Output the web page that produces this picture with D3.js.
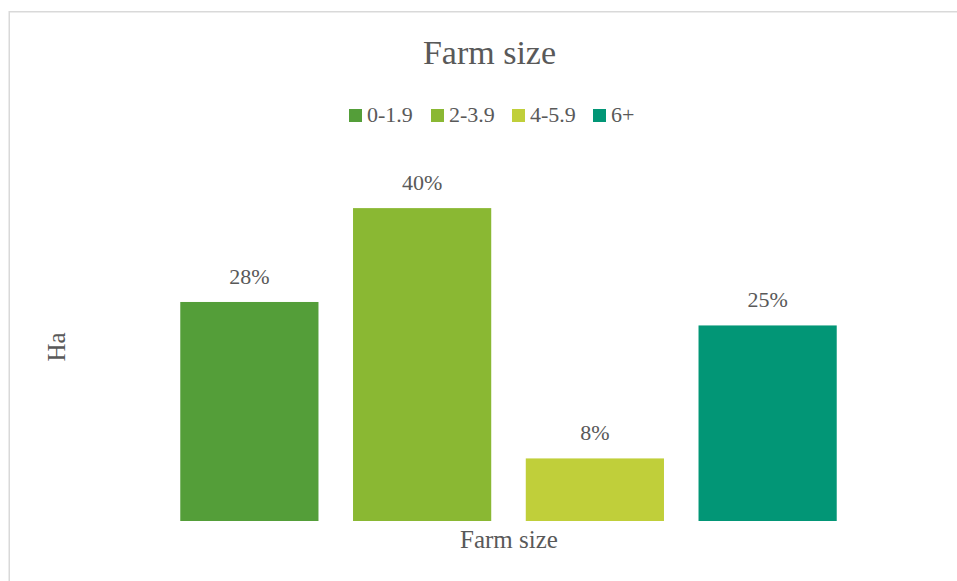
<!DOCTYPE html>
<html>
<head>
<meta charset="utf-8">
<script src="https://cdn.jsdelivr.net/npm/d3@7"></script>
<style>
  html, body { margin: 0; padding: 0; background: #ffffff; }
  svg { display: block; }
  text { font-family: "Liberation Serif", "DejaVu Serif", serif; fill: #595959; }
</style>
</head>
<body>
<svg id="chart" width="957" height="581"></svg>
<script>
// Farm size distribution (share of farms, %)
const categories = ["0-1.9", "2-3.9", "4-5.9", "6+"];
const shares = [28, 40, 8, 25];
const colors = ["#549E39", "#8AB833", "#C0CF3A", "#029676"];
const yMax = 45;

const svg = d3.select("#chart");

// chart frame
svg.append("rect")
  .attr("x", 9.25).attr("y", 11.75)
  .attr("width", 980).attr("height", 620)
  .attr("fill", "none")
  .attr("stroke", "#d9d9d9")
  .attr("stroke-width", 1.5);

const plot = { left: 163, right: 854, top: 169, bottom: 521 };

const x = d3.scaleBand()
  .domain(categories)
  .range([plot.left, plot.right])
  .paddingInner(0.2)
  .paddingOuter(0.1);

const y = d3.scaleLinear()
  .domain([0, yMax])
  .range([plot.bottom, plot.top]);

const color = d3.scaleOrdinal().domain(categories).range(colors);

const data = categories.map((c, i) => ({ cat: c, value: shares[i] }));

// bars
svg.append("g")
  .selectAll("rect")
  .data(data)
  .join("rect")
  .attr("x", d => x(d.cat))
  .attr("y", d => y(d.value))
  .attr("width", x.bandwidth())
  .attr("height", d => y(0) - y(d.value))
  .attr("fill", d => color(d.cat));

// value labels
svg.append("g")
  .selectAll("text")
  .data(data)
  .join("text")
  .attr("x", d => x(d.cat) + x.bandwidth() / 2)
  .attr("y", d => y(d.value) - 18)
  .attr("text-anchor", "middle")
  .attr("font-size", 22)
  .text(d => d.value + "%");

// title
svg.append("text")
  .attr("x", 489.5).attr("y", 64)
  .attr("text-anchor", "middle")
  .attr("font-size", 34)
  .text("Farm size");

// legend
const legendX = [349, 431, 512, 593];
const legend = svg.append("g")
  .selectAll("g")
  .data(categories)
  .join("g")
  .attr("transform", (d, i) => `translate(${legendX[i]},109)`);
legend.append("rect")
  .attr("width", 13).attr("height", 13)
  .attr("fill", d => color(d));
legend.append("text")
  .attr("x", 18).attr("y", 13)
  .attr("font-size", 22)
  .text(d => d);

// axis titles
svg.append("text")
  .attr("x", 509).attr("y", 548)
  .attr("text-anchor", "middle")
  .attr("font-size", 25)
  .text("Farm size");

svg.append("text")
  .attr("transform", "translate(65,347) rotate(-90)")
  .attr("text-anchor", "middle")
  .attr("font-size", 25)
  .text("Ha");
</script>
</body>
</html>
